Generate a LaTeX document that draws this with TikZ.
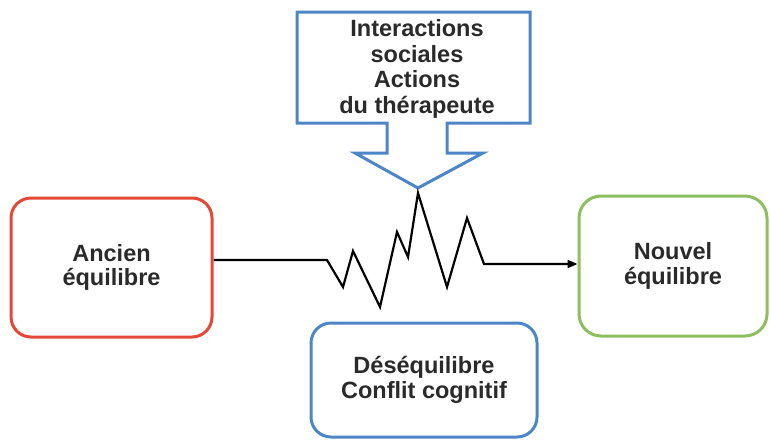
\documentclass[tikz,border=0pt]{standalone}
\usepackage{fontspec}
\setmainfont{Liberation Sans}
\usepackage{tikz}
\usetikzlibrary{arrows.meta}
\pgfdeclarelayer{bg}
\pgfsetlayers{bg,main}
\definecolor{oldred}{RGB}{229,72,55}
\definecolor{newgreen}{RGB}{141,190,96}
\definecolor{boxblue}{RGB}{76,134,198}
\definecolor{inkgray}{RGB}{42,42,42}
\tikzset{
  state/.style={draw, line width=3pt, rounded corners=20pt, align=center,
    inner sep=0pt, text=inkgray, font=\bfseries\fontsize{23.5}{24.5}\selectfont},
  word/.style={align=center, inner sep=0pt, text=inkgray,
    font=\bfseries\fontsize{23.5}{25.5}\selectfont},
}

\begin{document}
\begin{tikzpicture}[x=1pt, y=-1pt]
        \useasboundingbox (0,0) rectangle (770,442);
        \node (old) [state, draw=oldred, minimum width=201pt, minimum height=139pt] at (111.5,267.5) {Ancien\\équilibre};
        \node (new) [state, draw=newgreen, minimum width=188pt, minimum height=140pt, rounded corners=22pt] at (673,266) {Nouvel\\équilibre};
        \node (clash) [state, draw=boxblue, minimum width=226pt, minimum height=114pt] at (424,380) {Déséquilibre\\Conflit cognitif};
        \node (push) [word] at (417,69) {Interactions\\sociales\\Actions\\du thérapeute};
        \begin{pgfonlayer}{bg}
                \draw [boxblue, line width=3pt] (297,12) -- (530,12) -- (530,123) -- (447,123) -- (447,153) -- (483,153)
                        -- (418,188) -- (355,153) -- (387,153) -- (387,123) -- (297,123) -- cycle;
                \draw [line width=2.2pt, -{Triangle[length=10pt,width=8pt]}] ([yshift=7.5pt]old.east) -- (327,260) -- (343,287) -- (353,251)
                        -- (380,307) -- (397,232) -- (408,257) -- (418,193) -- (447,287) -- (467,218) -- (484,264)
                        -- ([yshift=2pt]new.west);
        \end{pgfonlayer}
\end{tikzpicture}
\end{document}
